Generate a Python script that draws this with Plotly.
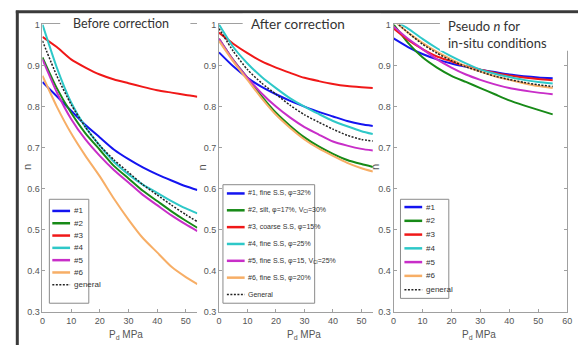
import plotly.graph_objects as go

# ---------------- data ----------------
P_ab = [0, 5, 10, 15, 20, 25, 30, 35, 40, 45, 50, 54]
P_ps = [0, 5, 10, 15, 20, 25, 30, 35, 40, 45, 50, 55]

before_1 = [0.86, 0.825, 0.79, 0.755, 0.725, 0.695, 0.672, 0.652, 0.635, 0.62, 0.606, 0.597]
before_2 = [0.92, 0.845, 0.785, 0.735, 0.695, 0.655, 0.625, 0.595, 0.57, 0.545, 0.522, 0.505]
before_3 = [0.97, 0.945, 0.915, 0.895, 0.878, 0.866, 0.857, 0.848, 0.84, 0.834, 0.828, 0.824]
before_4 = [1.0, 0.895, 0.81, 0.75, 0.705, 0.665, 0.635, 0.61, 0.59, 0.57, 0.552, 0.54]
before_5 = [0.915, 0.835, 0.77, 0.72, 0.68, 0.645, 0.615, 0.585, 0.56, 0.535, 0.513, 0.497]
before_6 = [0.875, 0.80, 0.735, 0.68, 0.63, 0.575, 0.525, 0.48, 0.445, 0.41, 0.385, 0.368]
before_g = [0.96, 0.875, 0.805, 0.75, 0.705, 0.67, 0.64, 0.61, 0.585, 0.56, 0.537, 0.52]

after_1 = [0.932, 0.898, 0.87, 0.848, 0.83, 0.814, 0.80, 0.787, 0.776, 0.765, 0.757, 0.753]
after_2 = [0.965, 0.913, 0.87, 0.825, 0.785, 0.753, 0.725, 0.703, 0.685, 0.67, 0.66, 0.653]
after_3 = [0.98, 0.953, 0.93, 0.91, 0.895, 0.882, 0.87, 0.862, 0.855, 0.85, 0.847, 0.845]
after_4 = [1.0, 0.945, 0.905, 0.872, 0.845, 0.82, 0.80, 0.782, 0.765, 0.752, 0.74, 0.733]
after_5 = [0.965, 0.913, 0.87, 0.832, 0.80, 0.773, 0.75, 0.732, 0.715, 0.705, 0.697, 0.693]
after_6 = [0.96, 0.91, 0.865, 0.82, 0.78, 0.748, 0.72, 0.698, 0.68, 0.663, 0.65, 0.642]
after_g = [0.99, 0.935, 0.89, 0.857, 0.83, 0.803, 0.78, 0.762, 0.745, 0.73, 0.72, 0.716]

pseudo_1 = [0.966, 0.945, 0.928, 0.915, 0.905, 0.897, 0.89, 0.884, 0.878, 0.874, 0.871, 0.869]
pseudo_2 = [1.0, 0.955, 0.92, 0.895, 0.875, 0.86, 0.845, 0.83, 0.815, 0.803, 0.792, 0.781]
pseudo_3 = [0.99, 0.962, 0.94, 0.922, 0.91, 0.898, 0.89, 0.882, 0.876, 0.871, 0.867, 0.864]
pseudo_4 = [1.01, 0.99, 0.965, 0.942, 0.922, 0.905, 0.89, 0.88, 0.872, 0.865, 0.86, 0.856]
pseudo_5 = [0.995, 0.965, 0.94, 0.915, 0.895, 0.878, 0.865, 0.854, 0.845, 0.839, 0.834, 0.83]
pseudo_6 = [1.01, 0.98, 0.955, 0.933, 0.915, 0.898, 0.885, 0.874, 0.865, 0.857, 0.85, 0.845]
pseudo_g = [1.01, 0.98, 0.952, 0.93, 0.912, 0.897, 0.885, 0.874, 0.866, 0.859, 0.853, 0.849]

labels_short = ["#1", "#2", "#3", "#4", "#5", "#6", "general"]
labels_long = ["#1, fine S.S, φ=32%",
               "#2, silt, φ=17%, V<sub>Cl</sub>=30%",
               "#3, coarse S.S, φ=15%",
               "#4, fine S.S, φ=25%",
               "#5, fine S.S, φ=15, V<sub>Cl</sub>=25%",
               "#6, fine S.S, φ=20%",
               "General"]

y_ticks = [0.3, 0.4, 0.5, 0.6, 0.7, 0.8, 0.9, 1.0]
y_ticktext = ["0.3", "0.4", "0.5", "0.6", "0.7", "0.8", "0.9", "1"]
x_ticks_ab = [0, 10, 20, 30, 40, 50]
x_ticks_ps = [0, 10, 20, 30, 40, 50, 60]

# ---------------- styling ----------------
W, H = 583, 350
COLORS = ["#1414f0", "#178a17", "#f01818", "#2ec8c8", "#c82ec8", "#f7ae66", "#222222"]
NARROW = "Liberation Sans, Arial, sans-serif"
TITLEF = "Lato, Open Sans, sans-serif"
AXC = "#a0a0a0"
TXC = "#555555"
DOT = "2px,1.5px"


def fx(px):
    return px / W


def fy(py):
    return 1 - py / H


panels = [
    dict(P=P_ab, series=[before_1, before_2, before_3, before_4, before_5, before_6, before_g],
         x0=40, x1=197, xr=[0, 54], xt=x_ticks_ab),
    dict(P=P_ab, series=[after_1, after_2, after_3, after_4, after_5, after_6, after_g],
         x0=219, x1=375, xr=[0, 54], xt=x_ticks_ab),
    dict(P=P_ps, series=[pseudo_1, pseudo_2, pseudo_3, pseudo_4, pseudo_5, pseudo_6, pseudo_g],
         x0=396, x1=572, xr=[0, 60], xt=x_ticks_ps),
]
Y0, Y1 = 20, 316

fig = go.Figure()
layout = dict(width=W, height=H, margin=dict(l=0, r=0, t=0, b=0),
              paper_bgcolor="white", plot_bgcolor="white", showlegend=False)

for i, pn in enumerate(panels):
    k = "" if i == 0 else str(i + 1)
    for j, ys in enumerate(pn["series"]):
        fig.add_trace(go.Scatter(
            x=pn["P"], y=ys, mode="lines", xaxis="x" + k, yaxis="y" + k,
            line=dict(color=COLORS[j], width=2 if j < 6 else 1.5,
                      dash=DOT if j == 6 else "solid", shape="spline", smoothing=0.6),
            hoverinfo="skip"))
    layout["xaxis" + k] = dict(
        domain=[fx(pn["x0"]), fx(pn["x1"])], range=pn["xr"], anchor="y" + k,
        showline=True, linecolor=AXC, linewidth=1, mirror=True,
        ticks="inside", ticklen=3, tickcolor=AXC, tickvals=pn["xt"],
        showgrid=False, zeroline=False,
        tickfont=dict(family=NARROW, size=9, color=TXC))
    layout["yaxis" + k] = dict(
        domain=[fy(Y1), fy(Y0)], range=[0.3, 1.0], anchor="x" + k,
        showline=True, linecolor=AXC, linewidth=1, mirror="ticks" if i == 2 else False,
        ticks="inside", ticklen=3, tickcolor=AXC,
        tickvals=y_ticks, ticktext=y_ticktext,
        showgrid=False, zeroline=False,
        tickfont=dict(family=NARROW, size=9, color=TXC))

fig.update_layout(**layout)

shapes = []
annots = []

# outer frame (top and left dark edges)
shapes.append(dict(type="line", xref="paper", yref="paper", x0=fx(13), x1=1, y0=fy(7), y1=fy(7),
                   line=dict(color="#3a3a3a", width=3), layer="above"))
shapes.append(dict(type="line", xref="paper", yref="paper", x0=fx(14.5), x1=fx(14.5), y0=fy(6), y1=0,
                   line=dict(color="#3a3a3a", width=3), layer="above"))

# white boxes behind panel titles (cover the top border)
covers = [(58, 190, 9, 31), (243, 383, 9, 31), (443, 583, 9, 47)]
for (a, b, c, d) in covers:
    shapes.append(dict(type="rect", xref="paper", yref="paper", x0=fx(a), x1=fx(b), y0=fy(d), y1=fy(c),
                       fillcolor="white", line=dict(width=0), layer="above"))

annots.append(dict(text="Before correction", x=fx(69), y=fy(19.5), xanchor="left", yanchor="middle",
                   showarrow=False, xref="paper", yref="paper",
                   font=dict(family=TITLEF, size=12.5, color="#333")))
annots.append(dict(text="After correction", x=fx(249), y=fy(19.5), xanchor="left", yanchor="middle",
                   showarrow=False, xref="paper", yref="paper",
                   font=dict(family=TITLEF, size=13.5, color="#333")))
annots.append(dict(text="Pseudo <i>n</i> for<br>in-situ conditions", x=fx(449), y=fy(11), xanchor="left",
                   yanchor="top", align="left", showarrow=False, xref="paper", yref="paper",
                   font=dict(family=TITLEF, size=13, color="#333")))

# axis titles
for xc, yl in [(125, 25), (305, 202), (483, 377)]:
    annots.append(dict(text="P<sub>d</sub> MPa", x=fx(xc), y=fy(340), xanchor="center", yanchor="middle",
                       showarrow=False, xref="paper", yref="paper",
                       font=dict(family=NARROW, size=10, color=TXC)))
    annots.append(dict(text="n", x=fx(yl), y=fy(167), xanchor="center", yanchor="middle", textangle=-90,
                       showarrow=False, xref="paper", yref="paper",
                       font=dict(family=NARROW, size=11, color=TXC)))

# manual legends
legends = [
    dict(box=(47, 87, 200, 307), lx=(50, 68), tx=70, y0=212, y1=288, labels=labels_short, fs=8),
    dict(box=(223, 316, 185, 307), lx=(227, 245), tx=246, y0=194, y1=298, labels=labels_long, fs=7),
    dict(box=(403, 452, 200, 302), lx=(407, 425), tx=427, y0=208, y1=293, labels=labels_short, fs=8),
]
for lg in legends:
    bx0, bx1, by0, by1 = lg["box"]
    shapes.append(dict(type="rect", xref="paper", yref="paper", x0=fx(bx0), x1=fx(bx1), y0=fy(by1), y1=fy(by0),
                       fillcolor="white", line=dict(color="#8a8a8a", width=1), layer="above"))
    n = len(lg["labels"])
    for j, lab in enumerate(lg["labels"]):
        yy = lg["y0"] + (lg["y1"] - lg["y0"]) * j / (n - 1)
        shapes.append(dict(type="line", xref="paper", yref="paper", x0=fx(lg["lx"][0]), x1=fx(lg["lx"][1]),
                           y0=fy(yy), y1=fy(yy), layer="above",
                           line=dict(color=COLORS[j], width=2.5 if j < 6 else 1.5,
                                     dash=DOT if j == 6 else "solid")))
        annots.append(dict(text=lab, x=fx(lg["tx"]), y=fy(yy), xanchor="left", yanchor="middle",
                           showarrow=False, xref="paper", yref="paper",
                           font=dict(family=NARROW, size=lg["fs"], color="#333")))

fig.update_layout(shapes=shapes, annotations=annots)
fig.write_html("out.html")
